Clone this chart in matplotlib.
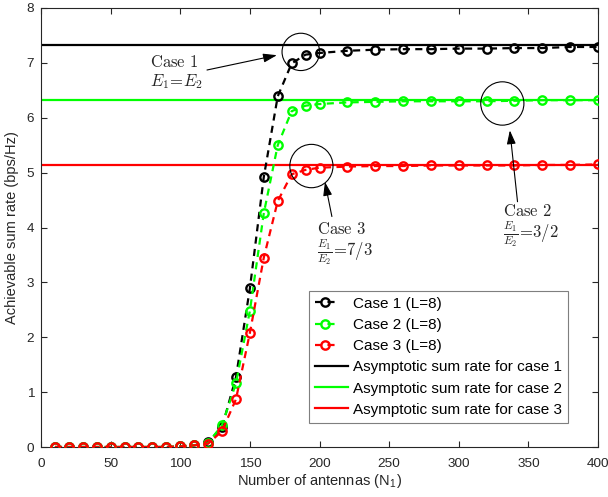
import numpy as np
import matplotlib
matplotlib.use("Agg")
import matplotlib.pyplot as plt
from matplotlib.patches import Ellipse
from matplotlib.legend_handler import HandlerLine2D

plt.rcParams['font.family'] = ['Liberation Sans', 'DejaVu Sans']
plt.rcParams['mathtext.fontset'] = 'cm'

# ---------------- data ----------------
antennas = [10, 20, 30, 40, 50, 60, 70, 80, 90, 100, 110, 120, 130, 140, 150,
            160, 170, 180, 190, 200, 220, 240, 260, 280, 300, 320, 340, 360, 380, 400]
case1 = [0.0, 0.0, 0.0, 0.0, 0.0, 0.0, 0.0, 0.0, 0.0, 0.01, 0.03, 0.09, 0.36, 1.27, 2.89,
         4.92, 6.39, 6.99, 7.15, 7.18, 7.22, 7.24, 7.25, 7.25, 7.26, 7.26, 7.27, 7.27, 7.29, 7.29]
case2 = [0.0, 0.0, 0.0, 0.0, 0.0, 0.0, 0.0, 0.0, 0.0, 0.01, 0.03, 0.07, 0.40, 1.16, 2.48,
         4.26, 5.50, 6.12, 6.22, 6.25, 6.28, 6.29, 6.30, 6.30, 6.30, 6.30, 6.31, 6.32, 6.32, 6.32]
case3 = [0.0, 0.0, 0.0, 0.0, 0.0, 0.0, 0.0, 0.0, 0.0, 0.01, 0.03, 0.06, 0.29, 0.87, 2.08,
         3.45, 4.48, 4.97, 5.05, 5.09, 5.11, 5.12, 5.12, 5.13, 5.13, 5.13, 5.13, 5.14, 5.14, 5.15]
asym = [7.33, 6.32, 5.14]
colors = ['#000000', '#00ff00', '#ff0000']
case_labels = ['Case 1 (L=8)', 'Case 2 (L=8)', 'Case 3 (L=8)']
asym_labels = ['Asymptotic sum rate for case 1', 'Asymptotic sum rate for case 2',
               'Asymptotic sum rate for case 3']
xticks = [0, 50, 100, 150, 200, 250, 300, 350, 400]
yticks = [0, 1, 2, 3, 4, 5, 6, 7, 8]

# ---------------- figure ----------------
fig = plt.figure(figsize=(6.08, 4.97), dpi=100)
ax = fig.add_axes([41/608, 50/497, 557/608, 439/497])

case_lines = []
for vals, c, lab in zip([case1, case2, case3], colors, case_labels):
    ln, = ax.plot(antennas, vals, color=c, linestyle='--', dashes=(3.2, 2.4), lw=1.6,
                  marker='o', markersize=6, markerfacecolor='none',
                  markeredgewidth=1.7, label=lab, zorder=3)
    case_lines.append(ln)
asym_lines = []
for a, c, lab in zip(asym, colors, asym_labels):
    ln = ax.axhline(a, color=c, lw=1.6, label=lab, zorder=2)
    asym_lines.append(ln)

ax.set_xlim(0, 400)
ax.set_ylim(0, 8)
ax.set_xticks(xticks)
ax.set_yticks(yticks)
ax.tick_params(direction='in', top=True, right=True, length=4, width=0.8,
               labelsize=9.7, colors='#262626')
ax.tick_params(axis='x', pad=8)
ax.tick_params(axis='y', pad=5)
for s in ax.spines.values():
    s.set_color('#262626')
    s.set_linewidth(0.8)
ax.set_xlabel('Number of antennas (N$_\\mathregular{1}$)', fontsize=10.5, color='#262626', labelpad=1)
ax.set_ylabel('Achievable sum rate (bps/Hz)', fontsize=10.5, color='#262626', labelpad=5)


class RightMarker(HandlerLine2D):
    def get_xdata(self, legend, xdescent, ydescent, width, height, fontsize):
        return [-xdescent, -xdescent + width * 0.6], [-xdescent + width * 0.6]


handler_map = {ln: RightMarker() for ln in case_lines}
leg = ax.legend(handles=case_lines + asym_lines, loc='lower right',
                bbox_to_anchor=(0.946, 0.055), borderaxespad=0, fontsize=11,
                fancybox=False, framealpha=1, edgecolor='#7f7f7f',
                handlelength=2.2, handletextpad=0.3, labelspacing=0.47,
                borderpad=0.4, handler_map=handler_map)
leg.get_frame().set_linewidth(0.8)

# ---------------- annotations ----------------
tc = '#262626'
for (cx, cy, w, h) in [(186.6, 7.20, 27.0, 0.68), (194.2, 5.12, 31.0, 0.79),
                       (331.3, 6.26, 31.0, 0.79)]:
    ax.add_patch(Ellipse((cx, cy), w, h, facecolor='none', edgecolor='black',
                         lw=0.8, zorder=4))

arrow = dict(arrowstyle='-|>,head_length=0.55,head_width=0.18', color='black',
             lw=0.8, mutation_scale=15, shrinkA=0, shrinkB=0)
ax.annotate('', xy=(169.4, 7.14), xytext=(119.2, 6.87), arrowprops=arrow)
ax.annotate('', xy=(203.9, 4.83), xytext=(208.9, 4.20), arrowprops=arrow)
ax.annotate('', xy=(336.7, 5.77), xytext=(342.2, 4.47), arrowprops=arrow)

ax.text(78.2, 7.01, r'$\mathrm{Case\ 1}$', fontsize=12, color=tc, ha='left', va='center')
ax.text(78.2, 6.65, r'$E_1\!=\!E_2$', fontsize=12, color=tc, ha='left', va='center')
ax.text(198.0, 3.97, r'$\mathrm{Case\ 3}$', fontsize=12, color=tc, ha='left', va='center')
ax.text(198.0, 3.56, r'$\frac{E_1}{E_2}\!=\!7/3$', fontsize=12, color=tc, ha='left', va='center')
ax.text(331.7, 4.30, r'$\mathrm{Case\ 2}$', fontsize=12, color=tc, ha='left', va='center')
ax.text(331.7, 3.89, r'$\frac{E_1}{E_2}\!=\!3/2$', fontsize=12, color=tc, ha='left', va='center')

fig.savefig('out.png', dpi=100)
